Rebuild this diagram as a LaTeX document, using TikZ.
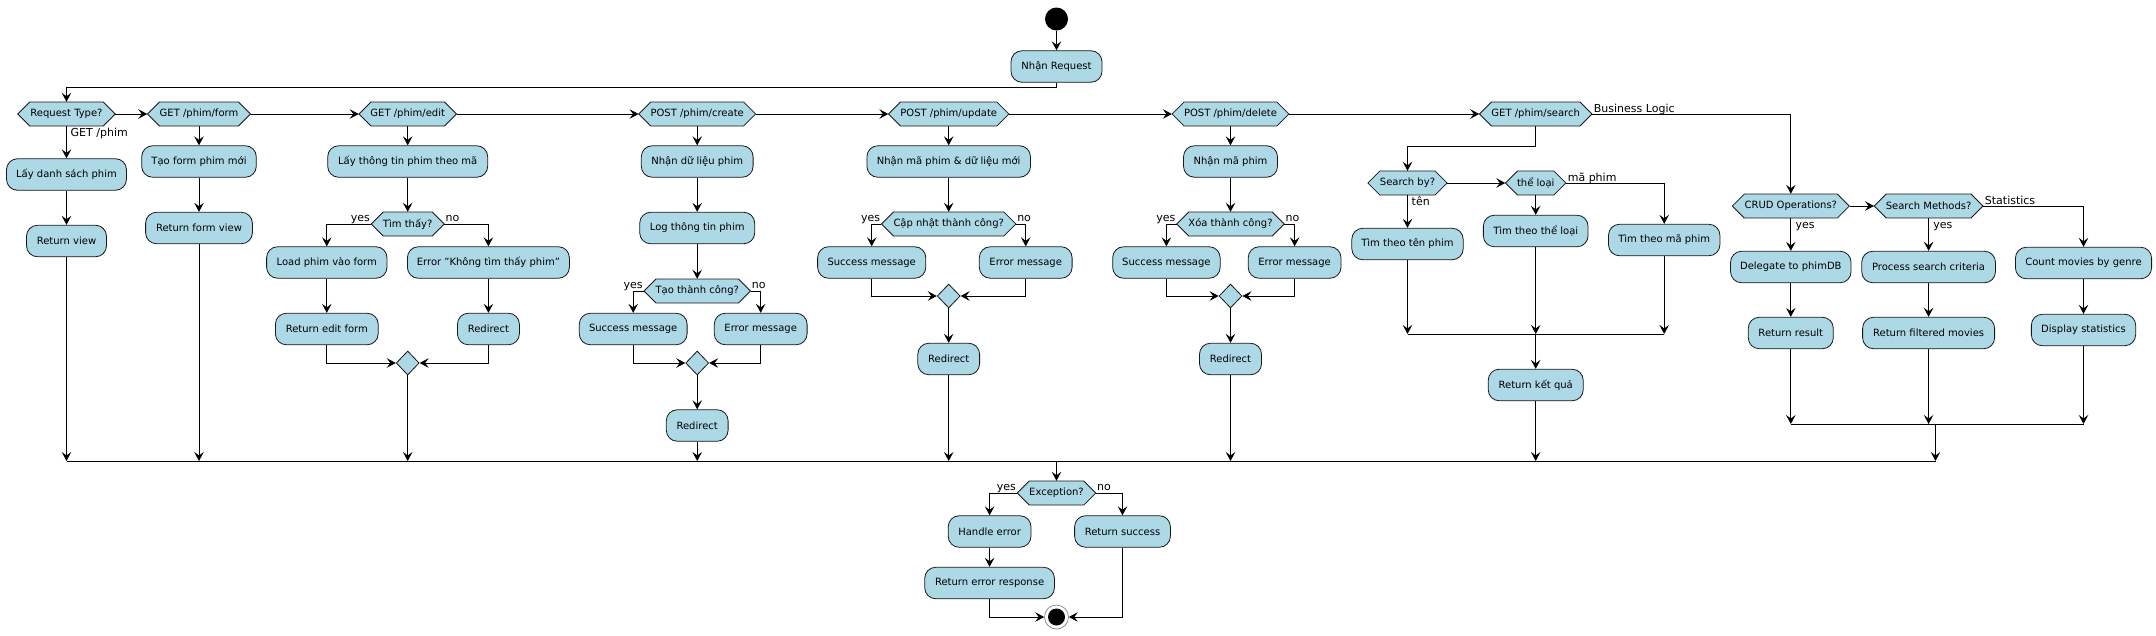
\documentclass[tikz,border=0pt]{standalone}
\usepackage{fontspec}
\setmainfont{DejaVu Sans}
\usetikzlibrary{arrows.meta,shapes.geometric}
\definecolor{nodefill}{HTML}{ADD8E6}
\definecolor{nodeline}{HTML}{181818}
\newcommand\nodefnt{\fontsize{10pt}{12pt}\selectfont}
\newcommand\lblfnt{\fontsize{11pt}{13pt}\selectfont}
% name, x, y, width, text
\newcommand\hexnode[5]{%
  \filldraw[draw=nodeline, fill=nodefill, line width=0.8pt]
    ({#2-#4/2},#3) -- ({#2-#4/2+12},{#3-12}) -- ({#2+#4/2-12},{#3-12}) --
    ({#2+#4/2},#3) -- ({#2+#4/2-12},{#3+12}) -- ({#2-#4/2+12},{#3+12}) -- cycle;
  \node[hexs, minimum width=#4pt] (#1) at (#2,#3) {#5};}
\newcommand\actnode[5]{%
  \node[act, minimum width=#4pt] (#1) at (#2,#3) {#5};}
\begin{document}
\begin{tikzpicture}[x=1pt,y=-1pt,
  act/.style={rectangle, rounded corners=11pt, draw=nodeline, line width=0.8pt, fill=nodefill,
    minimum height=31.5pt, inner sep=0pt, font=\nodefnt, text=black},
  hexs/.style={rectangle, inner sep=0pt, minimum height=24pt, font=\nodefnt, text=black},
  merge/.style={diamond, draw=nodeline, fill=nodefill, line width=0.8pt,
    minimum width=23pt, minimum height=24pt, inner sep=0pt},
  lbl/.style={inner sep=0pt, font=\lblfnt, text=black},
  conn/.style={draw=black, line width=1pt},
  arr/.style={conn, -{Stealth[length=9pt,width=9.5pt,inset=3.5pt]}}]
\useasboundingbox (0,0) rectangle (2156,635);
\fill[white] (0,0) rectangle (2156,635);

% start / entry
\node[circle, fill=black, minimum size=23pt, inner sep=0pt] (start) at (1056.5,19) {};
\actnode{req}{1056.5}{66.5}{91}{Nhận Request}
\coordinate (tl) at (66.5,87);

% top row of decisions
\hexnode{rt}{66.5}{114}{97.5}{Request Type?}
\hexnode{f0}{199}{114}{103}{GET /phim/form}
\hexnode{e0}{407.7}{114}{97.5}{GET /phim/edit}
\hexnode{c0}{697.2}{114}{116.8}{POST /phim/create}
\hexnode{u0}{948.7}{114}{120.3}{POST /phim/update}
\hexnode{d0}{1230.5}{114}{116.8}{POST /phim/delete}
\hexnode{s0}{1535.7}{114}{112.5}{GET /phim/search}

% GET /phim
\actnode{a1}{66.5}{174.5}{120}{Lấy danh sách phim}
\actnode{a2}{66.5}{241}{80}{Return view}
% form
\actnode{f1}{199}{161.5}{114.6}{Tạo form phim mới}
\actnode{f2}{199}{228}{106.8}{Return form view}
% edit
\actnode{e1}{407.7}{161.5}{160}{Lấy thông tin phim theo mã}
\hexnode{e2}{407.7}{224}{73}{Tìm thấy?}
\actnode{e3}{326.8}{262.5}{120.4}{Load phim vào form}
\actnode{e4}{488.4}{262.5}{162}{Error "Không tìm thấy phim"}
\actnode{e5}{326.8}{329}{102.8}{Return edit form}
\actnode{e6}{488.4}{329}{62}{Redirect}
\node[merge] (ed) at (407.7,363) {};
% create
\actnode{c1}{697.2}{161.5}{111.8}{Nhận dữ liệu phim}
\actnode{c2}{697.2}{228}{115}{Log thông tin phim}
\hexnode{c3}{697.2}{291}{106.5}{Tạo thành công?}
\actnode{c4}{633.2}{329}{107.8}{Success message}
\actnode{c5}{760.7}{329}{92.8}{Error message}
\node[merge] (cd) at (697.2,363) {};
\actnode{c6}{697.2}{425.5}{61.8}{Redirect}
% update
\actnode{u1}{948.7}{161.5}{163.6}{Nhận mã phim \& dữ liệu mới}
\hexnode{u2}{948.7}{224}{134.3}{Cập nhật thành công?}
\actnode{u3}{871.7}{262.5}{108.2}{Success message}
\actnode{u4}{1025.7}{262.5}{92.8}{Error message}
\node[merge] (ud) at (948.7,296) {};
\actnode{u5}{948.7}{359}{61.8}{Redirect}
% delete
\actnode{d1}{1230.5}{161.5}{94}{Nhận mã phim}
\hexnode{d2}{1230.5}{224}{107.5}{Xóa thành công?}
\actnode{d3}{1166.4}{262.5}{107.5}{Success message}
\actnode{d4}{1294.6}{262.5}{92.8}{Error message}
\node[merge] (dd) at (1230.5,296) {};
\actnode{d5}{1230.5}{359}{62}{Redirect}
% search
\hexnode{s1}{1407.5}{183}{79.3}{Search by?}
\hexnode{s2}{1535.7}{183}{60.4}{thể loại}
\actnode{s3}{1407.5}{244}{111.4}{Tìm theo tên phim}
\actnode{s4}{1535.7}{231}{104.7}{Tìm theo thể loại}
\actnode{s5}{1664.2}{240}{111.4}{Tìm theo mã phim}
\coordinate (sm) at (1535.7,334);
\actnode{s6}{1535.7}{385}{95}{Return kết quả}
% business logic
\hexnode{b1}{1790.8}{206}{117}{CRUD Operations?}
\hexnode{b2}{1928.6}{206}{108.8}{Search Methods?}
\actnode{b3}{1790.8}{267}{120.5}{Delegate to phimDB}
\actnode{b4}{1928.6}{267}{133.7}{Process search criteria}
\actnode{b5}{2083.5}{263}{136.2}{Count movies by genre}
\actnode{b6}{1790.8}{333}{85}{Return result}
\actnode{b7}{1928.6}{333}{132}{Return filtered movies}
\actnode{b8}{2083.5}{330}{104.3}{Display statistics}
\coordinate (bm) at (1935.5,424);
% main merge
\coordinate (mL) at (66.5,461);
\coordinate (mR) at (1935.5,461);
% exception
\hexnode{ex}{1056.5}{493}{78.6}{Exception?}
\actnode{h1}{989.6}{531.5}{82.8}{Handle error}
\actnode{h2}{989.6}{583}{129.7}{Return error response}
\actnode{h3}{1122.5}{531.5}{95.8}{Return success}
\node[circle, draw=nodeline!60, line width=0.6pt, fill=white, minimum size=24pt, inner sep=0pt,
  path picture={\fill[black] (path picture bounding box.center) circle (8.5pt);}] (end) at (1056.5,617) {};

% ---------- connectors ----------
\draw[arr] (start) -- (req);
\draw[arr] (req.south) |- (tl) -- (rt.north);
\draw[arr] (rt.east) -- (f0.west);
\draw[arr] (f0.east) -- (e0.west);
\draw[arr] (e0.east) -- (c0.west);
\draw[arr] (c0.east) -- (u0.west);
\draw[arr] (u0.east) -- (d0.west);
\draw[arr] (d0.east) -- (s0.west);
\draw[arr] (s0.east) -| (b1.north);

\draw[arr] (rt.south) -- (a1.north);
\draw[arr] (a1) -- (a2);
\draw[arr] (a2.south) -- (a2.south |- mL);

\draw[arr] (f0.south) -- (f1.north);
\draw[arr] (f1) -- (f2);
\draw[arr] (f2.south) -- (f2.south |- mL);

\draw[arr] (e0.south) -- (e1.north);
\draw[arr] (e1.south) -- (e2.north);
\draw[arr] (e2.west) -| (e3.north);
\draw[arr] (e2.east) -| (e4.north);
\draw[arr] (e3) -- (e5);
\draw[arr] (e4) -- (e6);
\draw[arr] (e5.south) |- (ed.west);
\draw[arr] (e6.south) |- (ed.east);
\draw[arr] (ed.south) -- (ed.south |- mL);

\draw[arr] (c0.south) -- (c1.north);
\draw[arr] (c1) -- (c2);
\draw[arr] (c2.south) -- (c3.north);
\draw[arr] (c3.west) -| (c4.north);
\draw[arr] (c3.east) -| (c5.north);
\draw[arr] (c4.south) |- (cd.west);
\draw[arr] (c5.south) |- (cd.east);
\draw[arr] (cd.south) -- (c6.north);
\draw[arr] (c6.south) -- (c6.south |- mL);

\draw[arr] (u0.south) -- (u1.north);
\draw[arr] (u1.south) -- (u2.north);
\draw[arr] (u2.west) -| (u3.north);
\draw[arr] (u2.east) -| (u4.north);
\draw[arr] (u3.south) |- (ud.west);
\draw[arr] (u4.south) |- (ud.east);
\draw[arr] (ud.south) -- (u5.north);
\draw[arr] (u5.south) -- (u5.south |- mL);

\draw[arr] (d0.south) -- (d1.north);
\draw[arr] (d1.south) -- (d2.north);
\draw[arr] (d2.west) -| (d3.north);
\draw[arr] (d2.east) -| (d4.north);
\draw[arr] (d3.south) |- (dd.west);
\draw[arr] (d4.south) |- (dd.east);
\draw[arr] (dd.south) -- (d5.north);
\draw[arr] (d5.south) -- (d5.south |- mL);

\draw[arr] (s0.south) -- ++(0,20) -| (s1.north);
\draw[arr] (s1.east) -- (s2.west);
\draw[arr] (s1.south) -- (s3.north);
\draw[arr] (s2.south) -- (s4.north);
\draw[arr] (s2.east) -| (s5.north);
\draw[arr] (s3.south) -- (s3.south |- sm);
\draw[arr] (s4.south) -- (sm);
\draw[arr] (s5.south) -- (s5.south |- sm);
\draw[conn] (s3.south |- sm) -- (s5.south |- sm);
\draw[arr] (sm) -- (s6.north);
\draw[arr] (s6.south) -- (s6.south |- mL);

\draw[arr] (b1.east) -- (b2.west);
\draw[arr] (b1.south) -- (b3.north);
\draw[arr] (b2.south) -- (b4.north);
\draw[arr] (b2.east) -| (b5.north);
\draw[arr] (b3) -- (b6);
\draw[arr] (b4) -- (b7);
\draw[arr] (b5) -- (b8);
\draw[arr] (b6.south) -- (b6.south |- bm);
\draw[arr] (b7.south) -- (b7.south |- bm);
\draw[arr] (b8.south) -- (b8.south |- bm);
\draw[conn] (b6.south |- bm) -- (b8.south |- bm);
\draw[arr] (bm) -- (mR);

\draw[conn] (mL) -- (mR);
\draw[arr] (ex.north |- mL) -- (ex.north);
\draw[arr] (ex.west) -| (h1.north);
\draw[arr] (ex.east) -| (h3.north);
\draw[arr] (h1) -- (h2);
\draw[arr] (h2.south) |- (end.west);
\draw[arr] (h3.south) |- (end.east);

% ---------- labels ----------
\node[lbl, anchor=base west] (lgp) at ([xshift=4pt,yshift=-10.5pt]rt.south) {GET /phim};
\node[lbl, anchor=base east] (ly1) at ([xshift=-1pt,yshift=2.5pt]e2.west) {yes};
\node[lbl, anchor=base west] (ln1) at ([xshift=1pt,yshift=2.5pt]e2.east) {no};
\node[lbl, anchor=base east] (ly2) at ([xshift=-1pt,yshift=2.5pt]c3.west) {yes};
\node[lbl, anchor=base west] (ln2) at ([xshift=1pt,yshift=2.5pt]c3.east) {no};
\node[lbl, anchor=base east] (ly3) at ([xshift=-1pt,yshift=2.5pt]u2.west) {yes};
\node[lbl, anchor=base west] (ln3) at ([xshift=1pt,yshift=2.5pt]u2.east) {no};
\node[lbl, anchor=base east] (ly4) at ([xshift=-1pt,yshift=2.5pt]d2.west) {yes};
\node[lbl, anchor=base west] (ln4) at ([xshift=1pt,yshift=2.5pt]d2.east) {no};
\node[lbl, anchor=base east] (ly5) at ([xshift=-1pt,yshift=2.5pt]ex.west) {yes};
\node[lbl, anchor=base west] (ln5) at ([xshift=1pt,yshift=2.5pt]ex.east) {no};
\node[lbl, anchor=base west] (lbl1) at ([xshift=1.5pt,yshift=2pt]s0.east) {Business Logic};
\node[lbl, anchor=base west] (lmp) at ([xshift=1.5pt,yshift=2pt]s2.east) {mã phim};
\node[lbl, anchor=base west] (lten) at ([xshift=4pt,yshift=-10pt]s1.south) {tên};
\node[lbl, anchor=base west] (lst) at ([xshift=1.5pt,yshift=2pt]b2.east) {Statistics};
\node[lbl, anchor=base west] (ly6) at ([xshift=4.5pt,yshift=-10pt]b1.south) {yes};
\node[lbl, anchor=base west] (ly7) at ([xshift=4.5pt,yshift=-10pt]b2.south) {yes};
\end{tikzpicture}
\end{document}
